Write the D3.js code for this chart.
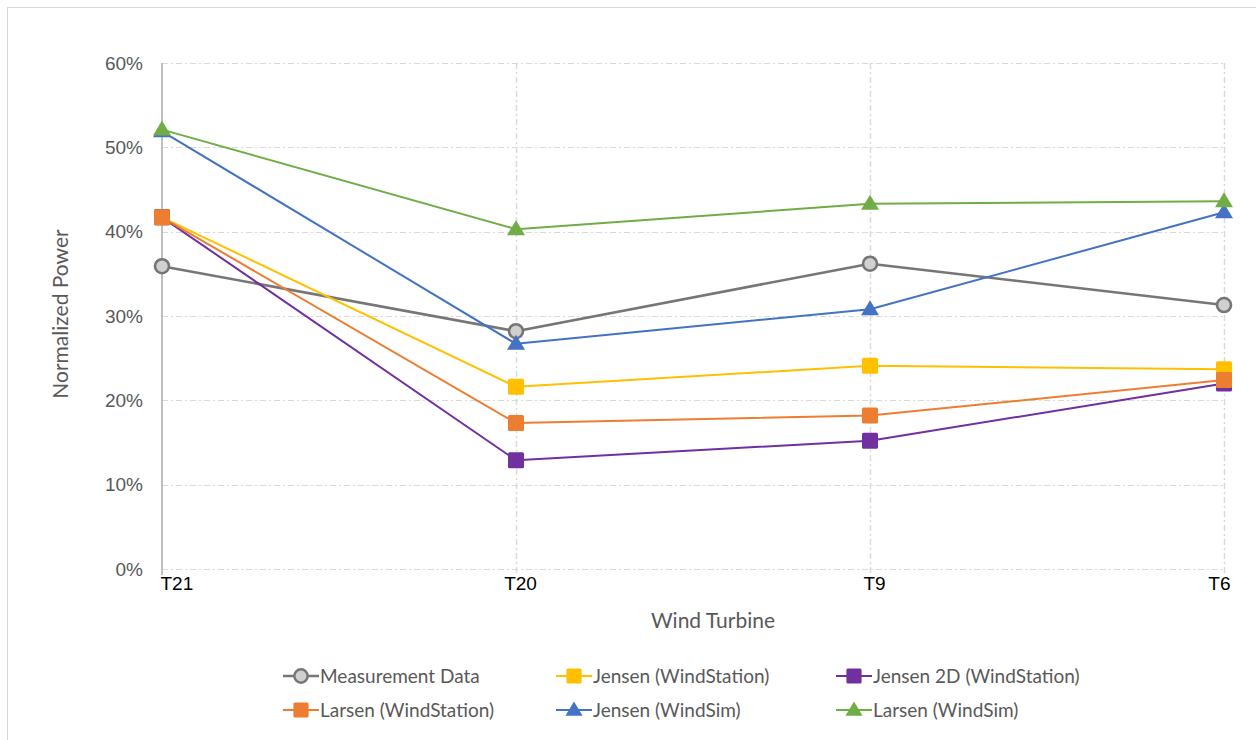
<!DOCTYPE html>
<html>
<head>
<meta charset="utf-8">
<script src="https://cdn.jsdelivr.net/npm/d3@7"></script>
<style>
  html, body { margin: 0; padding: 0; background: #fff; }
  svg { display: block; font-family: Lato, "Open Sans", sans-serif; }
</style>
</head>
<body>
<svg id="chart" width="1256" height="740"></svg>
<script>
// Turbines along the wake row
const turbines = ["T21", "T20", "T9", "T6"];

// Normalized power (%) per model
const measurementData = [35.9, 28.2, 36.2, 31.3];
const jensenWindStation = [41.7, 21.6, 24.1, 23.7];
const jensen2DWindStation = [41.7, 12.9, 15.2, 22.0];
const larsenWindStation = [41.7, 17.3, 18.2, 22.4];
const jensenWindSim = [51.9, 26.7, 30.8, 42.3];
const larsenWindSim = [52.1, 40.3, 43.3, 43.6];

const yTicks = [0, 10, 20, 30, 40, 50, 60];

const series = [
  { name: "Measurement Data", values: measurementData, color: "#767676", marker: "circle" },
  { name: "Jensen (WindStation)", values: jensenWindStation, color: "#FFC000", marker: "square" },
  { name: "Jensen 2D (WindStation)", values: jensen2DWindStation, color: "#7030A0", marker: "square" },
  { name: "Larsen (WindStation)", values: larsenWindStation, color: "#ED7D31", marker: "square" },
  { name: "Jensen (WindSim)", values: jensenWindSim, color: "#4472C4", marker: "triangle" },
  { name: "Larsen (WindSim)", values: larsenWindSim, color: "#70AD47", marker: "triangle" }
];

const svg = d3.select("#chart");

// chart frame
svg.append("rect")
  .attr("x", 7.5).attr("y", 7.5)
  .attr("width", 1260).attr("height", 750)
  .attr("fill", "#fff").attr("stroke", "#d9d9d9").attr("stroke-width", 1);

const plot = { left: 162, right: 1224, top: 63, bottom: 569 };

const x = d3.scalePoint().domain(turbines).range([plot.left, plot.right]);
const y = d3.scaleLinear().domain([0, 60]).range([plot.bottom, plot.top]);

const dash = "6,3,2,3";

// horizontal gridlines
svg.append("g")
  .selectAll("line")
  .data(yTicks)
  .join("line")
  .attr("x1", plot.left).attr("x2", plot.right)
  .attr("y1", d => Math.round(y(d)) + 0.5).attr("y2", d => Math.round(y(d)) + 0.5)
  .attr("stroke", "#d9d9d9").attr("stroke-width", 1)
  .attr("stroke-dasharray", dash);

// vertical gridlines (one per turbine after the first)
svg.append("g")
  .selectAll("line")
  .data(turbines.slice(1))
  .join("line")
  .attr("x1", d => Math.round(x(d)) + 0.5).attr("x2", d => Math.round(x(d)) + 0.5)
  .attr("y1", plot.top).attr("y2", plot.bottom + 6)
  .attr("stroke", "#d9d9d9").attr("stroke-width", 1.5)
  .attr("stroke-dasharray", dash);

// y axis
const yAxis = svg.append("g")
  .attr("transform", `translate(${plot.left},0)`)
  .call(d3.axisLeft(y).tickValues(yTicks).tickFormat(d => d + "%").tickSize(0).tickPadding(19));
yAxis.select(".domain").attr("stroke", "#bfbfbf").attr("stroke-width", 2)
  .attr("d", `M0,${plot.top}V${plot.bottom + 6}`);
yAxis.selectAll("text").attr("fill", "#595959").attr("font-size", 19);

// x axis
const xAxis = svg.append("g")
  .attr("transform", `translate(0,${plot.bottom})`)
  .call(d3.axisBottom(x).tickSize(0).tickPadding(8));
xAxis.select(".domain").remove();
xAxis.selectAll("text")
  .attr("fill", "#000").attr("font-size", 19)
  .attr("text-anchor", (d, i) => i === 0 ? "start" : (i === turbines.length - 1 ? "end" : "middle"))
  .attr("dx", (d, i) => i === 0 ? -2 : (i === turbines.length - 1 ? 6 : 4));

// axis titles
svg.append("text")
  .attr("transform", `translate(68,${(plot.top + plot.bottom) / 2 - 2}) rotate(-90)`)
  .attr("text-anchor", "middle")
  .attr("fill", "#595959").attr("font-size", 21)
  .text("Normalized Power");

svg.append("text")
  .attr("x", 713).attr("y", 628)
  .attr("text-anchor", "middle")
  .attr("fill", "#595959").attr("font-size", 21)
  .text("Wind Turbine");

// marker drawing
function drawMarker(g, s, cx, cy, scale) {
  const k = scale || 1;
  if (s.marker === "circle") {
    g.append("circle").attr("cx", cx).attr("cy", cy).attr("r", 7 * k)
      .attr("fill", "#d0d0d0").attr("stroke", s.color).attr("stroke-width", 2.6 * k);
  } else if (s.marker === "square") {
    const h = 8 * k;
    g.append("rect").attr("x", cx - h).attr("y", cy - h)
      .attr("width", 2 * h).attr("height", 2 * h).attr("rx", 1.5)
      .attr("fill", s.color);
  } else {
    const w = 9 * k, ht = 15 * k;
    g.append("path")
      .attr("d", `M${cx},${cy - ht * 0.6}L${cx + w},${cy + ht * 0.4}L${cx - w},${cy + ht * 0.4}Z`)
      .attr("fill", s.color);
  }
}

const line = d3.line().x((d, i) => x(turbines[i])).y(d => y(d));

series.forEach(s => {
  const g = svg.append("g");
  g.append("path")
    .datum(s.values)
    .attr("d", line)
    .attr("fill", "none")
    .attr("stroke", s.color)
    .attr("stroke-width", s.marker === "circle" ? 2.6 : 2)
    .attr("stroke-linejoin", "round");
  s.values.forEach((v, i) => drawMarker(g, s, x(turbines[i]), y(v)));
});

// legend
const legendCols = [283, 556, 836];
const legendRows = [676, 710];
series.forEach((s, i) => {
  const lx = legendCols[i % 3];
  const ly = legendRows[Math.floor(i / 3)];
  const g = svg.append("g");
  g.append("line")
    .attr("x1", lx).attr("x2", lx + 36)
    .attr("y1", ly).attr("y2", ly)
    .attr("stroke", s.color).attr("stroke-width", s.marker === "circle" ? 2.6 : 2);
  drawMarker(g, s, lx + 18, ly, 0.95);
  g.append("text")
    .attr("x", lx + 37).attr("y", ly + 7)
    .attr("fill", "#595959").attr("font-size", 19)
    .text(s.name);
});
</script>
</body>
</html>
